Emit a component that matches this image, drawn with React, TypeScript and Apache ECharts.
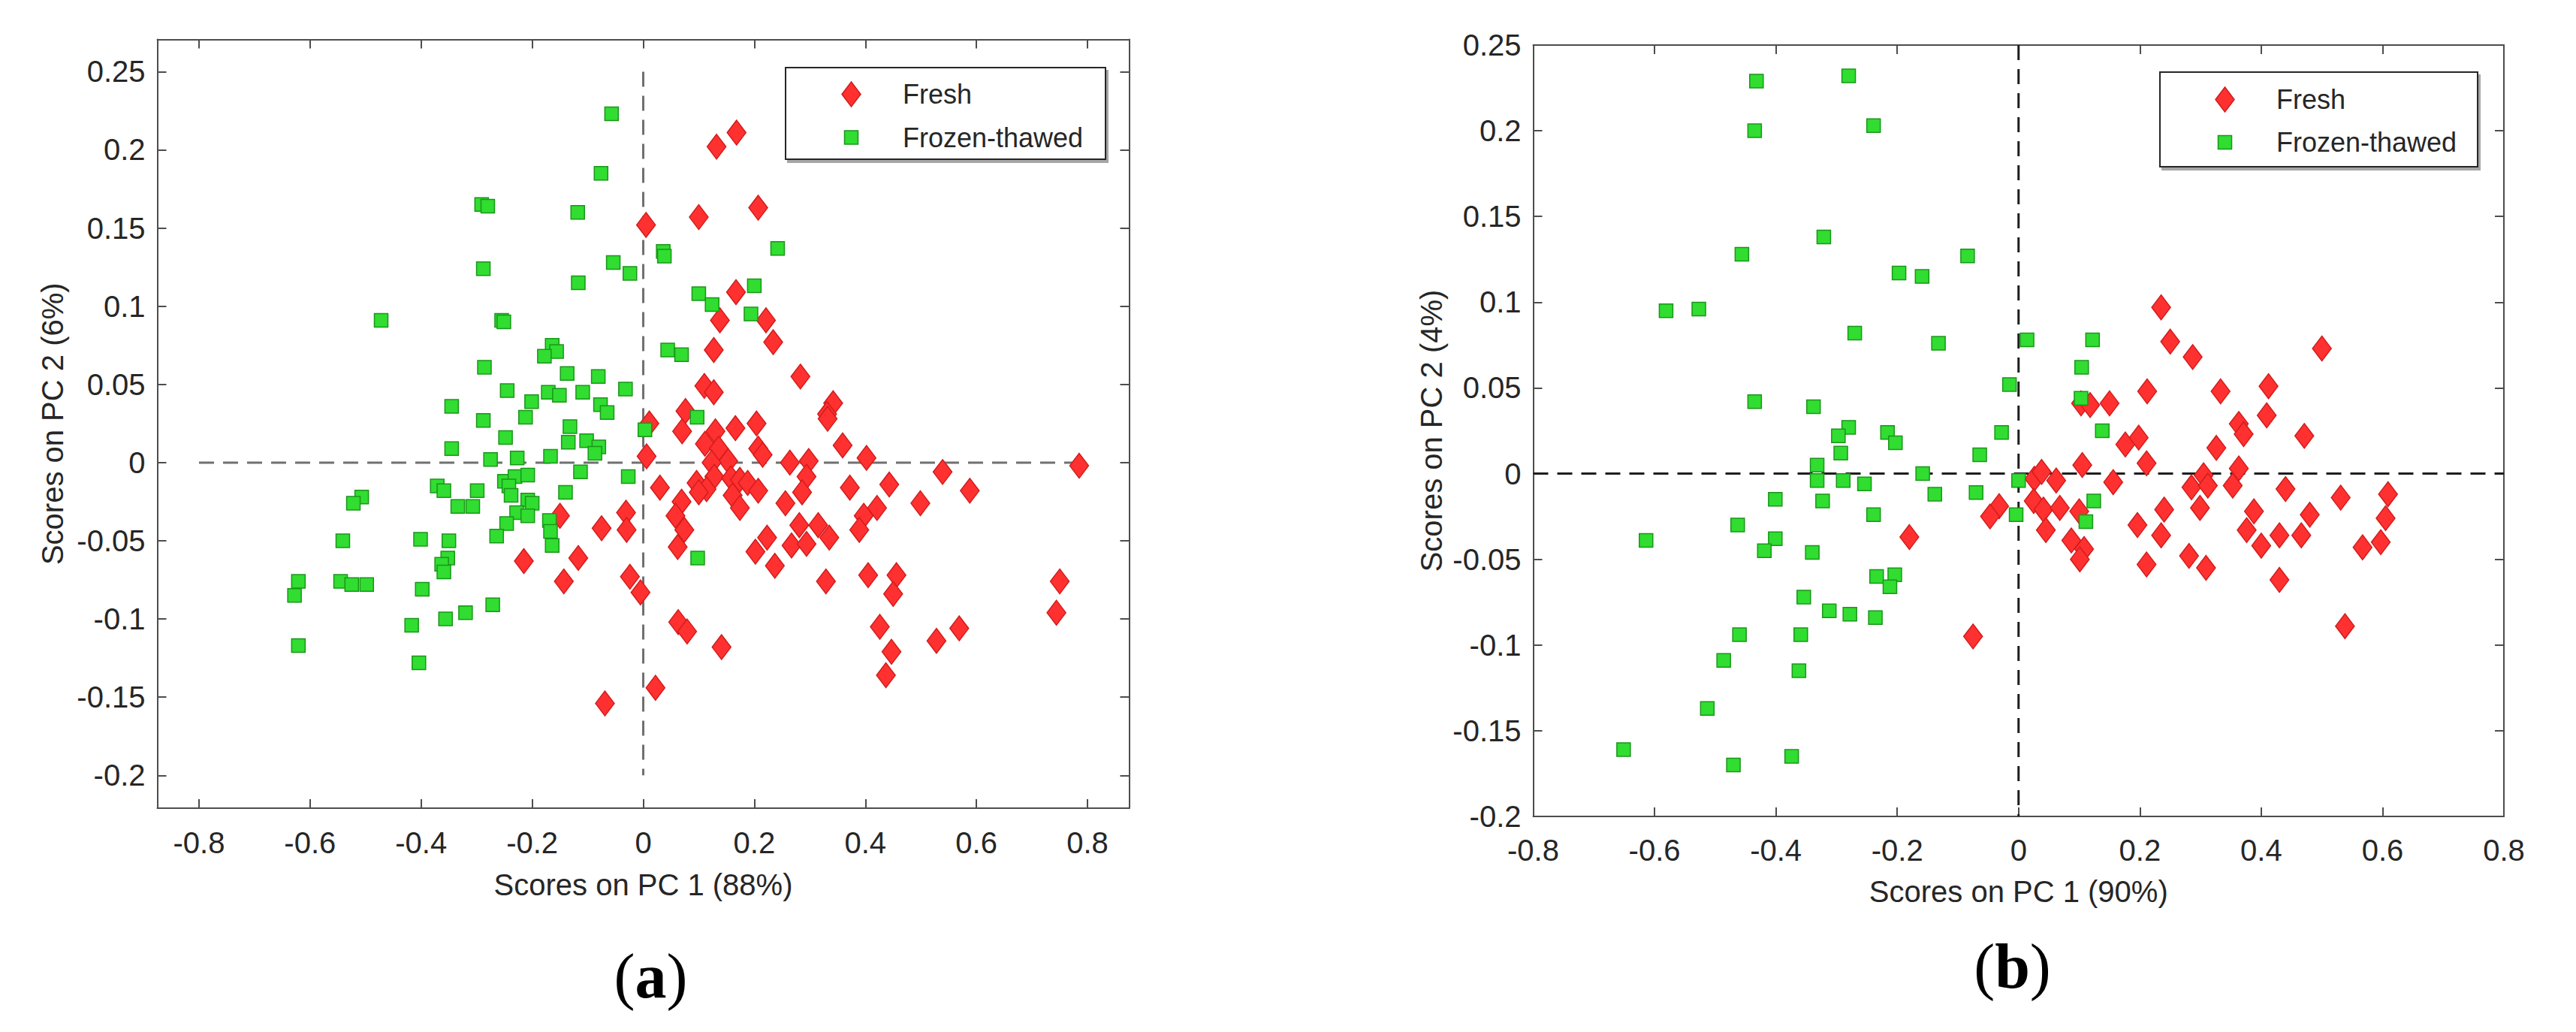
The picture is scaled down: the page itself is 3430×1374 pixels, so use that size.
import React, { useEffect, useRef } from 'react';
import * as echarts from 'echarts';

// ---------- DATA ----------
const SERIES_NAMES = ['Fresh', 'Frozen-thawed'];

// Panel (a)
const freshA: number[][] = [
  [0.168,0.211],[0.132,0.202],[0.207,0.163],[0.100,0.157],[0.005,0.152],[0.167,0.109],[0.138,0.091],[0.221,0.091],
  [0.234,0.077],[0.127,0.072],[0.283,0.055],[0.110,0.049],[0.127,0.045],[0.342,0.038],[0.331,0.031],[0.076,0.033],
  [0.011,0.025],[0.070,0.020],[0.130,0.020],[0.166,0.022],[0.204,0.025],[0.332,0.028],[0.111,0.012],[0.136,0.009],
  [0.207,0.009],[0.215,0.005],[0.359,0.011],[0.402,0.003],[0.006,0.004],[0.153,0.001],[0.123,0.000],[0.264,0.000],
  [0.298,0.001],[0.785,-0.002],[0.539,-0.006],[0.294,-0.009],[0.128,-0.009],[0.158,-0.010],[0.174,-0.011],[0.096,-0.013],
  [0.188,-0.013],[0.030,-0.016],[0.114,-0.017],[0.100,-0.019],[0.207,-0.018],[0.372,-0.016],[0.443,-0.014],[0.588,-0.018],
  [0.286,-0.019],[0.161,-0.021],[0.069,-0.025],[0.256,-0.026],[0.499,-0.026],[0.174,-0.029],[0.421,-0.029],[0.058,-0.034],
  [0.397,-0.034],[0.281,-0.040],[0.315,-0.040],[0.074,-0.043],[0.389,-0.043],[0.223,-0.048],[0.335,-0.048],[0.267,-0.053],
  [0.294,-0.052],[0.202,-0.057],[0.062,-0.054],[0.237,-0.066],[0.329,-0.076],[0.405,-0.072],[0.456,-0.072],[0.450,-0.084],
  [0.750,-0.076],[0.744,-0.096],[-0.005,-0.083],[0.063,-0.102],[0.079,-0.108],[0.141,-0.118],[0.426,-0.105],[0.569,-0.106],
  [0.528,-0.114],[0.447,-0.121],[0.437,-0.136],[0.022,-0.144],[-0.150,-0.034],[-0.075,-0.042],[-0.031,-0.032],[-0.030,-0.043],
  [-0.215,-0.063],[-0.117,-0.061],[-0.143,-0.076],[-0.024,-0.073],[-0.069,-0.154]
];
const frozenA: number[][] = [
  [-0.057,0.223],[-0.076,0.185],[-0.291,0.165],[-0.280,0.164],[-0.118,0.160],[-0.054,0.128],[-0.024,0.121],[-0.288,0.124],
  [-0.117,0.115],[-0.472,0.091],[-0.255,0.091],[-0.251,0.090],[-0.164,0.075],[-0.156,0.071],[-0.178,0.068],[-0.286,0.061],
  [-0.137,0.057],[-0.081,0.055],[-0.245,0.046],[-0.171,0.045],[-0.151,0.043],[-0.109,0.045],[-0.032,0.047],[-0.345,0.036],
  [-0.201,0.039],[-0.077,0.037],[-0.065,0.032],[-0.288,0.027],[-0.212,0.029],[0.242,0.137],[0.036,0.135],[0.038,0.132],
  [0.100,0.108],[0.124,0.101],[0.200,0.113],[0.194,0.095],[0.044,0.072],[0.069,0.069],[0.097,0.029],[0.003,0.021],
  [0.098,-0.061],[-0.132,0.023],[-0.248,0.016],[-0.345,0.009],[-0.135,0.013],[-0.102,0.014],[-0.080,0.010],[-0.087,0.006],
  [-0.275,0.002],[-0.227,0.003],[-0.167,0.004],[-0.113,-0.006],[-0.027,-0.009],[-0.371,-0.015],[-0.359,-0.018],[-0.299,-0.018],
  [-0.250,-0.012],[-0.231,-0.009],[-0.208,-0.008],[-0.242,-0.015],[-0.140,-0.019],[-0.238,-0.021],[-0.208,-0.024],[-0.200,-0.026],
  [-0.507,-0.022],[-0.522,-0.026],[-0.334,-0.028],[-0.307,-0.028],[-0.228,-0.032],[-0.208,-0.034],[-0.246,-0.039],[-0.169,-0.037],
  [-0.167,-0.044],[-0.264,-0.047],[-0.541,-0.050],[-0.401,-0.049],[-0.350,-0.050],[-0.164,-0.053],[-0.352,-0.061],[-0.363,-0.065],
  [-0.359,-0.070],[-0.621,-0.076],[-0.628,-0.085],[-0.545,-0.076],[-0.525,-0.078],[-0.498,-0.078],[-0.398,-0.081],[-0.271,-0.091],
  [-0.320,-0.096],[-0.356,-0.100],[-0.417,-0.104],[-0.621,-0.117],[-0.404,-0.128]
];

// Panel (b)
const freshB: number[][] = [
  [0.235,0.097],[0.250,0.077],[0.287,0.068],[0.500,0.073],[0.212,0.048],[0.333,0.048],[0.412,0.051],[0.103,0.041],
  [0.118,0.040],[0.150,0.041],[0.409,0.034],[0.363,0.029],[0.371,0.023],[0.471,0.022],[0.326,0.015],[0.176,0.017],
  [0.198,0.021],[0.211,0.006],[0.105,0.005],[0.363,0.003],[0.305,-0.001],[0.026,-0.003],[0.038,0.001],[0.062,-0.004],
  [0.156,-0.005],[0.285,-0.008],[0.312,-0.007],[0.353,-0.007],[0.440,-0.009],[0.531,-0.014],[0.609,-0.012],[-0.032,-0.019],
  [-0.047,-0.025],[0.025,-0.016],[0.041,-0.021],[0.068,-0.020],[0.100,-0.022],[0.240,-0.021],[0.299,-0.020],[0.388,-0.022],
  [0.480,-0.024],[0.605,-0.026],[0.045,-0.033],[0.196,-0.030],[0.087,-0.039],[0.108,-0.044],[0.101,-0.050],[0.235,-0.036],
  [0.376,-0.033],[0.430,-0.036],[0.466,-0.036],[0.400,-0.042],[0.567,-0.043],[0.597,-0.040],[0.281,-0.048],[0.309,-0.055],
  [0.211,-0.053],[0.430,-0.062],[0.538,-0.089],[-0.180,-0.037],[-0.075,-0.095]
];
const frozenB: number[][] = [
  [-0.432,0.229],[-0.280,0.232],[-0.435,0.200],[-0.239,0.203],[-0.321,0.138],[-0.456,0.128],[-0.084,0.127],[-0.197,0.117],
  [-0.159,0.115],[-0.581,0.095],[-0.527,0.096],[-0.270,0.082],[-0.132,0.076],[0.014,0.078],[0.122,0.078],[0.104,0.062],
  [-0.015,0.052],[-0.435,0.042],[-0.338,0.039],[0.103,0.044],[-0.280,0.027],[-0.297,0.022],[-0.216,0.024],[-0.028,0.024],
  [0.138,0.025],[-0.203,0.018],[-0.293,0.012],[-0.064,0.011],[-0.332,0.005],[-0.332,-0.004],[-0.289,-0.004],[-0.158,0.000],
  [0.000,-0.004],[-0.254,-0.006],[-0.138,-0.012],[-0.070,-0.011],[-0.401,-0.015],[-0.323,-0.016],[0.124,-0.016],[-0.239,-0.024],
  [-0.004,-0.024],[-0.463,-0.030],[-0.401,-0.038],[-0.614,-0.039],[0.111,-0.028],[-0.419,-0.045],[-0.340,-0.046],[-0.234,-0.060],
  [-0.204,-0.059],[-0.212,-0.066],[-0.354,-0.072],[-0.312,-0.080],[-0.278,-0.082],[-0.236,-0.084],[-0.460,-0.094],[-0.359,-0.094],
  [-0.486,-0.109],[-0.362,-0.115],[-0.513,-0.137],[-0.651,-0.161],[-0.374,-0.165],[-0.470,-0.170]
];

// Ticks and axis ranges
const X_TICKS = [-0.8, -0.6, -0.4, -0.2, 0, 0.2, 0.4, 0.6, 0.8];
const Y_TICKS = [-0.2, -0.15, -0.1, -0.05, 0, 0.05, 0.1, 0.15, 0.2, 0.25];
const RANGE_A = { xMin: -0.875, xMax: 0.875, yMin: -0.221, yMax: 0.2706 };
const RANGE_B = { xMin: -0.8, xMax: 0.8, yMin: -0.2, yMax: 0.25 };
const X_TITLES = ['Scores on PC 1 (88%)', 'Scores on PC 1 (90%)'];
const Y_TITLES = ['Scores on PC 2 (6%)', 'Scores on PC 2 (4%)'];
const PANEL_LABELS = ['a', 'b'];

// ---------- STYLE ----------
const FONT = '"Liberation Sans", Arial, Helvetica, sans-serif';
const AXIS_COLOR = '#4d4d4d';
const TEXT_COLOR = '#262626';
const RED = '#ff3030';
const RED_EDGE = '#d21c1c';
const GREEN = '#30dd30';
const GREEN_EDGE = '#1a961a';

const fmt = (v: number) => String(Math.round(v * 1000) / 1000);

function makeXAxes(grid: number, r: any, name: string, nameGap: number, labelMargin: number) {
  const line = { show: true, onZero: false, lineStyle: { color: AXIS_COLOR, width: 2 } };
  const tick = { show: true, inside: true, length: 12, customValues: X_TICKS, lineStyle: { color: AXIS_COLOR, width: 2 } };
  return [
    {
      type: 'value', gridIndex: grid, position: 'bottom', min: r.xMin, max: r.xMax,
      axisLine: line, axisTick: tick, splitLine: { show: false },
      axisLabel: { show: true, customValues: X_TICKS, margin: labelMargin, color: TEXT_COLOR, fontSize: 40, fontFamily: FONT, formatter: fmt },
      name, nameLocation: 'middle', nameGap,
      nameTextStyle: { color: TEXT_COLOR, fontSize: 40, fontFamily: FONT },
    },
    {
      type: 'value', gridIndex: grid, position: 'top', min: r.xMin, max: r.xMax,
      axisLine: line, axisTick: tick, splitLine: { show: false }, axisLabel: { show: false },
    },
  ];
}

function makeYAxes(grid: number, r: any, name: string, nameGap: number, labelMargin: number) {
  const line = { show: true, onZero: false, lineStyle: { color: AXIS_COLOR, width: 2 } };
  const tick = { show: true, inside: true, length: 12, customValues: Y_TICKS, lineStyle: { color: AXIS_COLOR, width: 2 } };
  return [
    {
      type: 'value', gridIndex: grid, position: 'left', min: r.yMin, max: r.yMax,
      axisLine: line, axisTick: tick, splitLine: { show: false },
      axisLabel: { show: true, customValues: Y_TICKS, margin: labelMargin, color: TEXT_COLOR, fontSize: 40, fontFamily: FONT, formatter: fmt },
      name, nameLocation: 'middle', nameGap,
      nameTextStyle: { color: TEXT_COLOR, fontSize: 40, fontFamily: FONT },
    },
    {
      type: 'value', gridIndex: grid, position: 'right', min: r.yMin, max: r.yMax,
      axisLine: line, axisTick: tick, splitLine: { show: false }, axisLabel: { show: false },
    },
  ];
}

function panelSeries(xi: number, yi: number, fresh: number[][], frozen: number[][], dashColor: string) {
  const dash = { type: [20, 12], width: 3, color: dashColor };
  return [
    {
      type: 'line', xAxisIndex: xi, yAxisIndex: yi, data: [[-0.8, 0], [0.8, 0]],
      symbol: 'none', silent: true, lineStyle: dash, z: 1,
    },
    {
      type: 'line', xAxisIndex: xi, yAxisIndex: yi, data: [[0, 0.25], [0, -0.2]],
      symbol: 'none', silent: true, lineStyle: dash, z: 1,
    },
    {
      name: SERIES_NAMES[0], type: 'scatter', xAxisIndex: xi, yAxisIndex: yi, data: fresh,
      symbol: 'diamond', symbolSize: [25, 33], z: 2,
      itemStyle: { color: RED, borderColor: RED_EDGE, borderWidth: 1.5, opacity: 1 },
    },
    {
      name: SERIES_NAMES[1], type: 'scatter', xAxisIndex: xi, yAxisIndex: yi, data: frozen,
      symbol: 'rect', symbolSize: 18, z: 3,
      itemStyle: { color: GREEN, borderColor: GREEN_EDGE, borderWidth: 1.5, opacity: 1 },
    },
  ];
}

function legendGraphic(x: number, y: number, w: number, h: number, mx: number, tx: number, y1: number, y2: number) {
  return [
    {
      type: 'rect', shape: { x, y, width: w, height: h }, z: 100,
      style: { fill: '#fff', stroke: '#262626', lineWidth: 2, shadowColor: 'rgba(0,0,0,0.35)', shadowOffsetX: 3, shadowOffsetY: 4, shadowBlur: 1 },
    },
    {
      type: 'polygon', z: 101,
      shape: { points: [[mx, y1 - 16.5], [mx + 12.5, y1], [mx, y1 + 16.5], [mx - 12.5, y1]] },
      style: { fill: RED, stroke: RED_EDGE, lineWidth: 1.5 },
    },
    {
      type: 'rect', z: 101, shape: { x: mx - 9, y: y2 - 9, width: 18, height: 18 },
      style: { fill: GREEN, stroke: GREEN_EDGE, lineWidth: 1.5 },
    },
    {
      type: 'text', z: 101, x: tx, y: y1,
      style: { text: SERIES_NAMES[0], fill: TEXT_COLOR, font: `36px ${FONT}`, verticalAlign: 'middle', align: 'left' },
    },
    {
      type: 'text', z: 101, x: tx, y: y2,
      style: { text: SERIES_NAMES[1], fill: TEXT_COLOR, font: `36px ${FONT}`, verticalAlign: 'middle', align: 'left' },
    },
  ];
}

function panelLabel(cx: number, cy: number, letter: string) {
  return {
    type: 'text', x: cx, y: cy, z: 101,
    style: {
      text: `{p|(}{b|${letter}}{p|)}`,
      align: 'center', verticalAlign: 'middle',
      rich: {
        p: { fontFamily: '"Liberation Serif", "DejaVu Serif", serif', fontSize: 84, fontWeight: 'normal', fill: '#000' },
        b: { fontFamily: '"Liberation Serif", "DejaVu Serif", serif', fontSize: 84, fontWeight: 'bold', fill: '#000' },
      },
    },
  };
}

export default function App() {
  const ref = useRef<HTMLDivElement>(null);
  useEffect(() => {
    document.body.style.margin = '0';
    const chart = echarts.init(ref.current!, null, { renderer: 'svg' });
    const option: any = {
      animation: false,
      backgroundColor: '#ffffff',
      textStyle: { fontFamily: FONT },
      grid: [
        { left: 209.5, top: 52.5, width: 1294, height: 1023.5, containLabel: false },
        { left: 2041.5, top: 60, width: 1292.5, height: 1027, containLabel: false },
      ],
      xAxis: [
        ...makeXAxes(0, RANGE_A, X_TITLES[0], 82, 26),
        ...makeXAxes(1, RANGE_B, X_TITLES[1], 80, 25),
      ],
      yAxis: [
        ...makeYAxes(0, RANGE_A, Y_TITLES[0], 120, 16),
        ...makeYAxes(1, RANGE_B, Y_TITLES[1], 116, 16),
      ],
      series: [
        ...panelSeries(0, 0, freshA, frozenA, '#707070'),
        ...panelSeries(2, 2, freshB, frozenB, '#1e1e1e'),
      ],
      graphic: [
        ...legendGraphic(1046, 90, 426, 122, 1133.5, 1202, 125.5, 183),
        ...legendGraphic(2876, 96, 423, 126, 2962.5, 3031, 132.5, 189.5),
        panelLabel(866.5, 1299, PANEL_LABELS[0]),
        panelLabel(2679.5, 1286, PANEL_LABELS[1]),
      ],
    };
    chart.setOption(option);
    return () => chart.dispose();
  }, []);
  return <div ref={ref} style={{ width: 3430, height: 1374, background: '#fff' }} />;
}
